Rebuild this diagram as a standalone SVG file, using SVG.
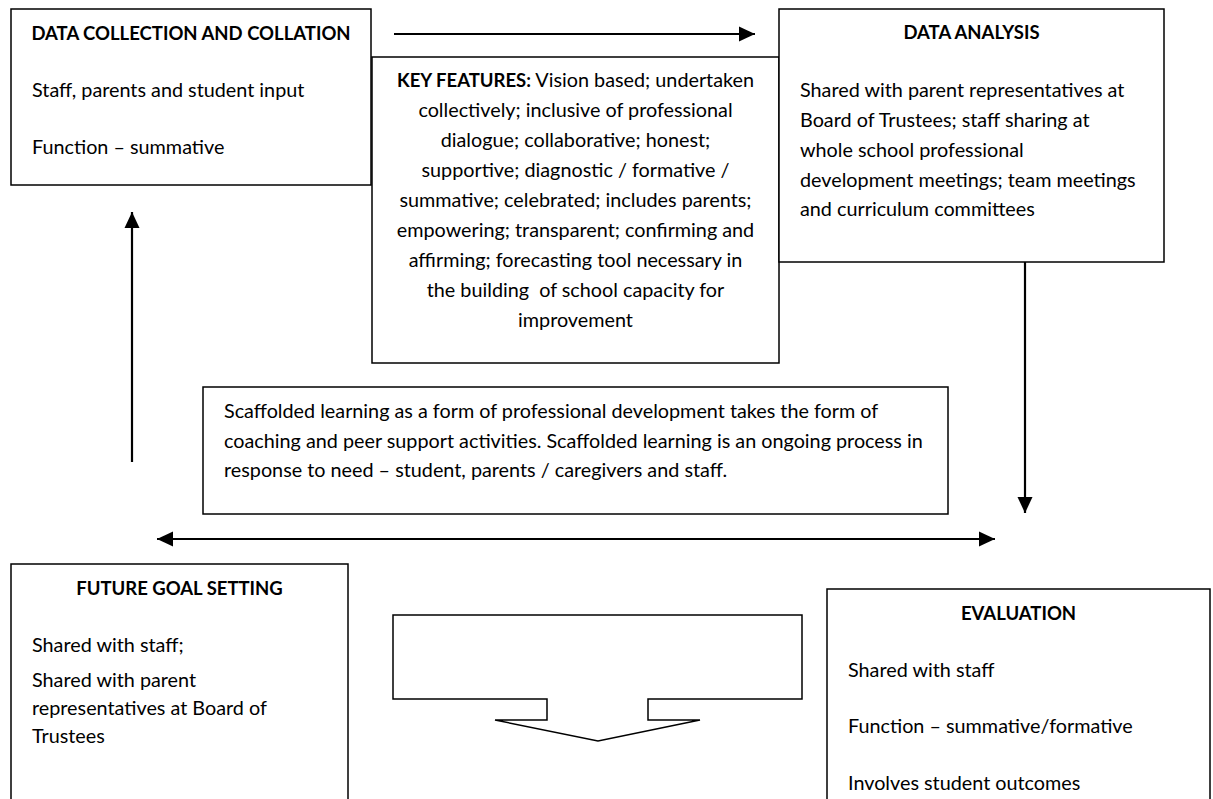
<svg xmlns="http://www.w3.org/2000/svg" width="1213" height="799" viewBox="0 0 1213 799">
  <defs>
    <style>
      .box { fill: #fff; stroke: #000; stroke-width: 1.5; }
      .t { font-family: Lato, "Open Sans", "Liberation Sans", sans-serif; font-size: 19.8px; fill: #000; }
      .b { font-weight: bold; font-size: 18.5px; }
      .c { text-anchor: middle; }
      .line { stroke: #000; stroke-width: 2.2; fill: none; }
    </style>
    <marker id="headL" viewBox="0 0 16 16" refX="16" refY="8" markerWidth="16" markerHeight="16" markerUnits="userSpaceOnUse" orient="auto-start-reverse">
      <path d="M0,0.5 L16,8 L0,15.5 Z" fill="#000"/>
    </marker>
  </defs>
  <rect width="1213" height="799" fill="#fff"/>

  <!-- connectors -->
  <g id="connectors">
    <line class="line" x1="394" y1="34" x2="755" y2="34" marker-end="url(#headL)"/>
    <line class="line" x1="1025" y1="262" x2="1025" y2="513" marker-end="url(#headL)"/>
    <line class="line" x1="132" y1="462" x2="132" y2="212" marker-end="url(#headL)"/>
    <line class="line" x1="157" y1="539" x2="995" y2="539" marker-start="url(#headL)" marker-end="url(#headL)"/>
  </g>

  <g id="data-collection">
    <rect class="box" x="11" y="9" width="360" height="176"/>
    <text class="t b c" x="191" y="40">DATA COLLECTION AND COLLATION</text>
    <text class="t" x="32" y="97">Staff, parents and student input</text>
    <text class="t" x="32" y="154">Function – summative</text>
  </g>

  <g id="key-features">
    <rect class="box" x="372" y="57" width="407" height="306"/>
    <text class="t c" x="575.5" y="87"><tspan class="b">KEY FEATURES:</tspan> Vision based; undertaken</text>
    <text class="t c" x="575.5" y="117">collectively; inclusive of professional</text>
    <text class="t c" x="575.5" y="147">dialogue; collaborative; honest;</text>
    <text class="t c" x="575.5" y="177">supportive; diagnostic / formative /</text>
    <text class="t c" x="575.5" y="207">summative; celebrated; includes parents;</text>
    <text class="t c" x="575.5" y="237">empowering; transparent; confirming and</text>
    <text class="t c" x="575.5" y="267">affirming; forecasting tool necessary in</text>
    <text class="t c" x="575.5" y="297" style="white-space:pre">the building  of school capacity for</text>
    <text class="t c" x="575.5" y="327">improvement</text>
  </g>

  <g id="data-analysis">
    <rect class="box" x="779" y="9" width="385" height="253"/>
    <text class="t b c" x="971.5" y="39">DATA ANALYSIS</text>
    <text class="t" x="800" y="97">Shared with parent representatives at</text>
    <text class="t" x="800" y="127">Board of Trustees; staff sharing at</text>
    <text class="t" x="800" y="157">whole school professional</text>
    <text class="t" x="800" y="187">development meetings; team meetings</text>
    <text class="t" x="800" y="216">and curriculum committees</text>
  </g>

  <g id="scaffolded-learning">
    <rect class="box" x="203" y="387" width="745" height="127"/>
    <text class="t" x="224" y="418">Scaffolded learning as a form of professional development takes the form of</text>
    <text class="t" x="224" y="448">coaching and peer support activities. Scaffolded learning is an ongoing process in</text>
    <text class="t" x="224" y="477">response to need – student, parents / caregivers and staff.</text>
  </g>

  <g id="future-goal-setting">
    <rect class="box" x="11" y="564" width="337" height="250"/>
    <text class="t b c" x="179.5" y="595">FUTURE GOAL SETTING</text>
    <text class="t" x="32" y="652">Shared with staff;</text>
    <text class="t" x="32" y="687">Shared with parent</text>
    <text class="t" x="32" y="715">representatives at Board of</text>
    <text class="t" x="32" y="743">Trustees</text>
  </g>

  <g id="block-arrow">
    <path class="box" d="M393,615 H802 V699 H648 V720 H700 L598,741 L495,720 H547 V699 H393 Z"/>
  </g>

  <g id="evaluation">
    <rect class="box" x="827" y="589" width="383" height="230"/>
    <text class="t b c" x="1018.5" y="620">EVALUATION</text>
    <text class="t" x="848" y="677">Shared with staff</text>
    <text class="t" x="848" y="733">Function – summative/formative</text>
    <text class="t" x="848" y="790">Involves student outcomes</text>
  </g>
</svg>
